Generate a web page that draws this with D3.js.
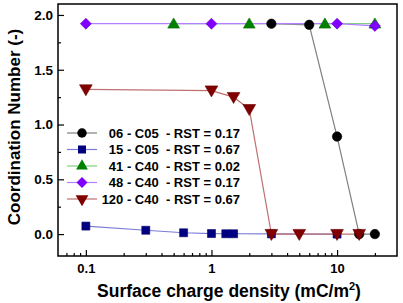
<!DOCTYPE html>
<html>
<head>
<meta charset="UTF-8" />
<title>coordination number</title>
<script src="https://d3js.org/d3.v7.min.js"></script>
<style>
  body { margin: 0; background: #fff; }
  text { font-family: "Liberation Sans", Arial, sans-serif; font-weight: bold; }
</style>
</head>
<body>
<svg id="chart" width="403" height="303"></svg>
<script>
// data
var names = ["06 - C05  - RST = 0.17", "15 - C05  - RST = 0.67", "41 - C40  - RST = 0.02",
             "48 - C40  - RST = 0.17", "120 - C40  - RST = 0.67"]
var x06 = [3, 6, 10, 15, 20]
var y06 = [1.92, 1.91, 0.89, 0.0, 0.0]
var x15 = [0.1, 0.3, 0.6, 1, 1.3, 1.5, 3, 10]
var y15 = [0.073, 0.035, 0.012, 0.005, 0.003, 0.003, 0.002, 0.0]
var x41 = [0.5, 2, 8, 20]
var y41 = [1.92, 1.92, 1.92, 1.92]
var x48 = [0.1, 1, 10, 20]
var y48 = [1.92, 1.92, 1.92, 1.90]
var x120 = [0.1, 1, 1.5, 2, 3, 5, 10, 15]
var y120 = [1.32, 1.31, 1.25, 1.14, 0.0, 0.0, 0.0, 0.0]
var xTicks = [0.1, 1, 10]
var yTicks = [0, 0.5, 1, 1.5, 2]

// rot = extra rotation of the symbol (diamond = square turned 45deg, down triangle = 180)
var series = [
  {xs: x06, ys: y06, sym: d3.symbolCircle, fill: "#000000", line: "#7f7f7f", size: 70, rot: 0},
  {xs: x15, ys: y15, sym: d3.symbolSquare, fill: "#000080", line: "#7b7bd6", size: 64, rot: 0},
  {xs: x41, ys: y41, sym: d3.symbolTriangle, fill: "#008000", line: "#7fd07f", size: 60, rot: 0, dy: 1},
  {xs: x48, ys: y48, sym: d3.symbolSquare, fill: "#8000ff", line: "#b480ff", size: 60, rot: 45},
  {xs: x120, ys: y120, sym: d3.symbolTriangle, fill: "#800000", line: "#c07070", size: 70, rot: 180, dy: -1}
]

var svg = d3.select("#chart")
var L = 58, R = 397, T = 4, B = 256
var x = d3.scaleLog().domain([0.06, 30]).range([L, R])
var y = d3.scaleLinear().domain([-0.2, 2.1]).range([B, T])

// axes with inward ticks
var minorX = []
;[0.01, 0.1, 1, 10].forEach(p => { for (var k = 2; k <= 9; k++) { var v = p * k; if (v > 0.06 && v < 30) minorX.push(v) } })
svg.append("g").attr("transform", `translate(0,${B})`)
  .call(d3.axisBottom(x).tickValues(minorX).tickSize(-3).tickFormat(""))
  .call(g => g.select(".domain").remove())
svg.append("g").attr("transform", `translate(0,${B})`)
  .call(d3.axisBottom(x).tickValues(xTicks).tickSize(-6).tickPadding(8).tickFormat(d3.format("")))
  .call(g => g.select(".domain").remove())
  .selectAll("text").attr("font-size", 13).attr("fill", "#000")

svg.append("g").attr("transform", `translate(${L},0)`)
  .call(d3.axisLeft(y).tickValues([0.25, 0.75, 1.25, 1.75]).tickSize(-3).tickFormat(""))
  .call(g => g.select(".domain").remove())
svg.append("g").attr("transform", `translate(${L},0)`)
  .call(d3.axisLeft(y).tickValues(yTicks).tickSize(-6).tickPadding(5).tickFormat(d3.format(".1f")))
  .call(g => g.select(".domain").remove())
  .selectAll("text").attr("font-size", 13.5).attr("fill", "#000")
svg.selectAll(".tick line").attr("stroke", "#000").attr("stroke-width", 1.2)

svg.append("rect").attr("x", L).attr("y", T).attr("width", R - L).attr("height", B - T)
  .attr("fill", "none").attr("stroke", "#000").attr("stroke-width", 1.5)

// lines and markers
var line = d3.line().x(d => x(d[0])).y(d => y(d[1]))
series.forEach(s => {
  var pts = s.xs.map((v, i) => [v, s.ys[i]])
  svg.append("path").attr("d", line(pts)).attr("fill", "none").attr("stroke", s.line).attr("stroke-width", 1.2)
})
series.forEach(s => {
  var pts = s.xs.map((v, i) => [v, s.ys[i]])
  svg.selectAll(null).data(pts).enter().append("path")
    .attr("d", d3.symbol(s.sym, s.size))
    .attr("transform", d => `translate(${x(d[0])},${y(d[1]) + (s.dy || 0)}) rotate(${s.rot})`)
    .attr("fill", s.fill).attr("stroke", d3.color(s.fill).darker(0.5)).attr("stroke-width", 0.6)
})

// legend
var leg = svg.append("g")
series.forEach((s, i) => {
  var ly = 133 + i * 16.5
  leg.append("line").attr("x1", 67).attr("x2", 97).attr("y1", ly).attr("y2", ly)
    .attr("stroke", s.line).attr("stroke-width", 1.2)
  leg.append("path").attr("d", d3.symbol(s.sym, s.size))
    .attr("transform", `translate(82,${ly}) rotate(${s.rot})`)
    .attr("fill", s.fill)
  leg.append("text").attr("x", 240).attr("y", ly + 4.5).attr("text-anchor", "end")
    .attr("font-size", 13).style("white-space", "pre").text(names[i])
})

// axis titles
svg.append("text").attr("transform", "translate(20,127) rotate(-90)").attr("text-anchor", "middle")
  .attr("font-size", 17).text("Coordination Number (-)")
var xt = svg.append("text").attr("x", 229).attr("y", 297).attr("text-anchor", "middle").attr("font-size", 17.5)
xt.append("tspan").text("Surface charge density (mC/m")
xt.append("tspan").attr("dy", -7).attr("font-size", 11).text("2")
xt.append("tspan").attr("dy", 7).text(")")
</script>
</body>
</html>
